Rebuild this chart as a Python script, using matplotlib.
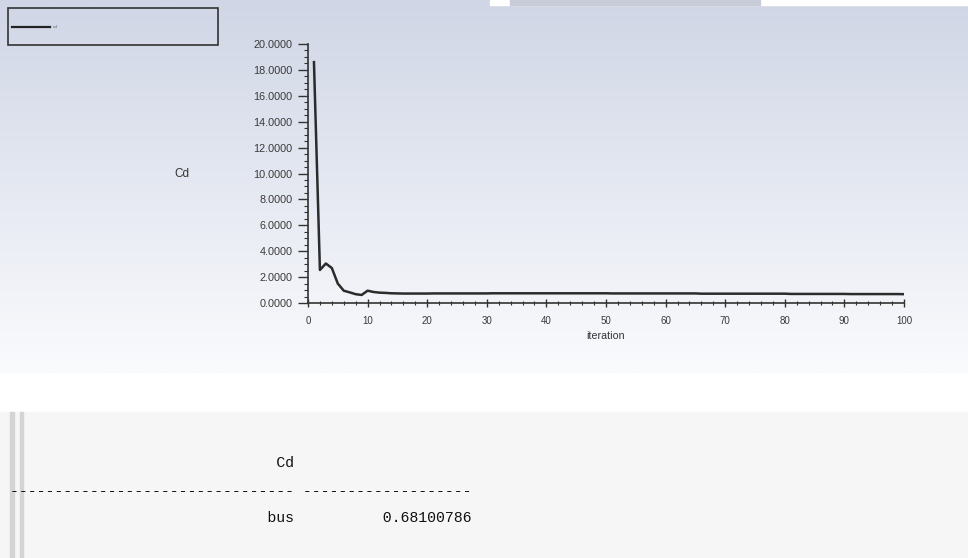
import numpy as np
import matplotlib.pyplot as plt
from matplotlib.patches import Rectangle
from matplotlib.lines import Line2D

# Cd history
iteration = list(range(1, 101))
cd = ([18.6, 2.55, 3.05, 2.7, 1.5, 0.95, 0.82, 0.68, 0.62, 0.95,
       0.85, 0.80, 0.78, 0.75, 0.74, 0.73, 0.73, 0.73, 0.73, 0.73]
      + [0.74] * 10 + [0.75] * 20 + [0.74] * 15 + [0.72] * 15 + [0.70] * 10
      + [0.69] * 9 + [0.681])

report_name = 'bus'
report_value = 0.68100786

W, H = 968, 558
fig = plt.figure(figsize=(W / 100, H / 100), dpi=100)
fig.patch.set_facecolor('white')

# background: gradient panel on top, gray console below
bg = fig.add_axes([0, 0, 1, 1])
bg.set_xlim(0, W)
bg.set_ylim(H, 0)
bg.axis('off')
grad = np.linspace(0, 1, 256)[:, None]
top = np.array([208, 214, 230]) / 255
bot = np.array([250, 251, 253]) / 255
img = top[None, None, :] * (1 - grad[..., None]) + bot[None, None, :] * grad[..., None]
bg.imshow(img, extent=[0, W, 373, 0], aspect='auto', zorder=0)
bg.add_patch(Rectangle((490, 0), W - 490, 5, color='white', zorder=1))
bg.add_patch(Rectangle((510, 0), 250, 5, color='#c8ccd8', zorder=1))
bg.add_patch(Rectangle((0, 412), W, H - 412, color='#f6f6f6', zorder=1))
bg.add_patch(Rectangle((10, 412), 4, H - 412, color='#d4d4d4', zorder=2))
bg.add_patch(Rectangle((20, 412), 3, H - 412, color='#d4d4d4', zorder=2))

# legend box
bg.add_patch(Rectangle((8, 8), 210, 37, fill=False, edgecolor='#333333', lw=1.2, zorder=3))
bg.add_line(Line2D([12, 50], [27, 27], color='#222222', lw=1.6, zorder=3))
bg.text(53, 27, 'cd', fontsize=3, color='#555555', va='center', zorder=3)

bg.text(182, 174, 'Cd', fontsize=8.5, color='#333333', ha='center', va='center',
        family='Liberation Sans')

# console table
mono = dict(family='Liberation Mono', fontsize=10.7, color='#111111', va='center')
bg.text(10, 463, ' ' * 30 + 'Cd', **mono)
bg.text(10, 491, '-' * 32 + ' ' + '-' * 19, **mono)
bg.text(10, 518, ' ' * 29 + report_name + ' ' * 10 + f'{report_value:.8f}', **mono)

# monitor plot
ax = fig.add_axes([308 / W, (H - 303) / H, 596 / W, 259 / H])
ax.patch.set_alpha(0)
ax.plot(iteration, cd, color='#2b2b2b', lw=1.8)
ax.set_xlim(0, 100)
ax.set_ylim(0, 20)
for s in ['top', 'right']:
    ax.spines[s].set_visible(False)
for s in ['left', 'bottom']:
    ax.spines[s].set_color('#333333')
    ax.spines[s].set_linewidth(1.2)
ax.set_xticks(range(0, 101, 10))
ax.set_xticks(range(0, 101, 2), minor=True)
ax.set_yticks(np.arange(0, 20.1, 2))
ax.set_yticks(np.arange(0, 20.1, 0.5), minor=True)
ax.set_yticklabels([f'{v:.4f}' for v in np.arange(0, 20.1, 2)])
ax.tick_params(axis='y', which='major', direction='out', length=7, width=1, color='#333333',
               labelsize=7.8, labelcolor='#3a3a3a', pad=4)
ax.tick_params(axis='y', which='minor', direction='out', length=3, width=0.8, color='#333333')
ax.tick_params(axis='x', which='major', direction='inout', length=6, width=1, color='#333333',
               labelsize=7, labelcolor='#3a3a3a', pad=6)
ax.tick_params(axis='x', which='minor', direction='inout', length=3, width=0.8, color='#333333')
for lab in ax.get_xticklabels() + ax.get_yticklabels():
    lab.set_family('Liberation Sans')
ax.set_xlabel('iteration', fontsize=7.7, color='#333333', family='Liberation Sans', labelpad=4)

fig.savefig('out.png', dpi=100)
